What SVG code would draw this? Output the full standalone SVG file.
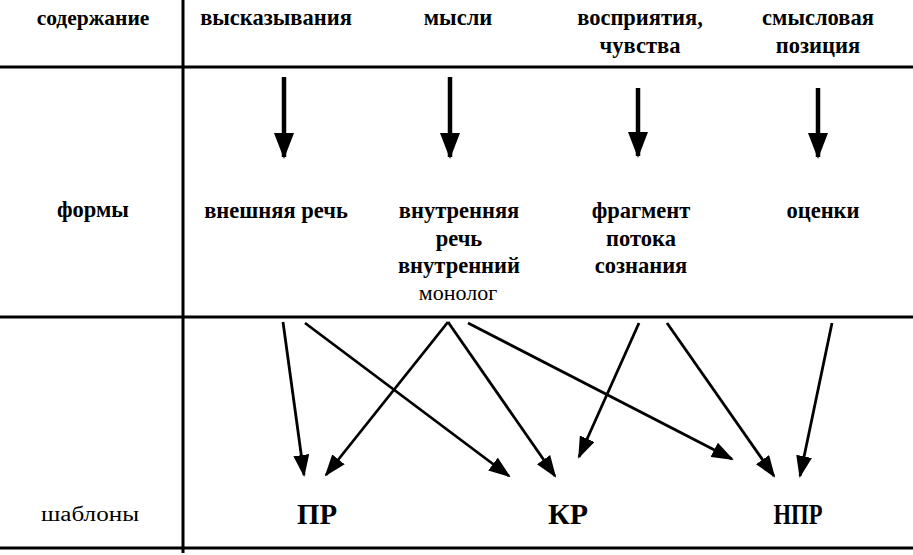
<svg xmlns="http://www.w3.org/2000/svg" width="913" height="555" viewBox="0 0 913 555">
<style>
.t{font-family:"Liberation Serif","Times New Roman",serif;font-size:22.5px;font-weight:bold;fill:#000;text-anchor:middle}
.l{font-weight:normal}
.c{font-size:29px}
.g{stroke:#000;stroke-width:3;fill:none}
.a1{stroke:#000;stroke-width:4.5;fill:none;marker-end:url(#big)}
.a2{stroke:#000;stroke-width:2.8;fill:none;marker-end:url(#small)}
</style>
<defs>
<marker id="big" markerUnits="userSpaceOnUse" viewBox="0 0 26 20" markerWidth="26" markerHeight="20" refX="24" refY="10" orient="auto">
<path d="M0,0 L26,10 L0,20 z" fill="#000"/>
</marker>
<marker id="small" markerUnits="userSpaceOnUse" viewBox="0 0 22 16" markerWidth="22" markerHeight="16" refX="20" refY="8" orient="auto">
<path d="M0,0 L22,8 L0,16 z" fill="#000"/>
</marker>
</defs>
<rect width="913" height="555" fill="#fff"/>
<g id="grid">
<line class="g" x1="183" y1="0" x2="183" y2="553"/>
<line class="g" x1="0" y1="67" x2="913" y2="67"/>
<line class="g" x1="0" y1="317" x2="913" y2="317"/>
<line class="g" x1="0" y1="548" x2="913" y2="548"/>
</g>
<g id="row-labels">
<text id="lbl-content" class="t" x="93" y="25" style="font-size:21.5px">содержание</text>
<text id="lbl-forms" class="t" x="93" y="217">формы</text>
<text id="lbl-templates" class="t l" x="90" y="521" textLength="98" lengthAdjust="spacingAndGlyphs" style="font-size:20px">шаблоны</text>
</g>
<g id="n-vysk"><text class="t" x="276" y="25">высказывания</text></g>
<g id="n-mysli"><text class="t" x="458" y="25">мысли</text></g>
<g id="n-vospr"><text class="t" x="640" y="25">восприятия,</text><text class="t" x="640" y="53">чувства</text></g>
<g id="n-smysl"><text class="t" x="818" y="25">смысловая</text><text class="t" x="818" y="53">позиция</text></g>
<g id="n-vnesh"><text class="t" x="276" y="218">внешняя речь</text></g>
<g id="n-vnutr"><text class="t" x="459" y="218">внутренняя</text><text class="t" x="459" y="246">речь</text><text class="t" x="459" y="273">внутренний</text><text class="t l" x="458" y="300" style="font-size:22px">монолог</text></g>
<g id="n-fragm"><text class="t" x="641" y="218">фрагмент</text><text class="t" x="641" y="246">потока</text><text class="t" x="641" y="273">сознания</text></g>
<g id="n-ocenki"><text class="t" x="823" y="218">оценки</text></g>
<g id="n-pr"><text class="t c" x="317" y="524" textLength="40" lengthAdjust="spacingAndGlyphs">ПР</text></g>
<g id="n-kr"><text class="t c" x="568" y="524" textLength="40" lengthAdjust="spacingAndGlyphs">КР</text></g>
<g id="n-npr"><text class="t c" x="798" y="524" textLength="49" lengthAdjust="spacingAndGlyphs">НПР</text></g>
<g id="connectors">
<line class="a1" x1="284" y1="77" x2="284" y2="157"/>
<line class="a1" x1="450" y1="77" x2="450" y2="157"/>
<line class="a1" x1="638" y1="88" x2="638" y2="156"/>
<line class="a1" x1="818" y1="88" x2="818" y2="157"/>
<line class="a2" x1="283" y1="322" x2="304" y2="475"/>
<line class="a2" x1="305" y1="323" x2="509" y2="476"/>
<line class="a2" x1="448" y1="322" x2="326" y2="475"/>
<line class="a2" x1="448" y1="322" x2="555" y2="476"/>
<line class="a2" x1="468" y1="323" x2="732" y2="459"/>
<line class="a2" x1="639" y1="323" x2="579" y2="457"/>
<line class="a2" x1="667" y1="323" x2="774" y2="476"/>
<line class="a2" x1="832" y1="323" x2="800" y2="476"/>
</g>
</svg>
